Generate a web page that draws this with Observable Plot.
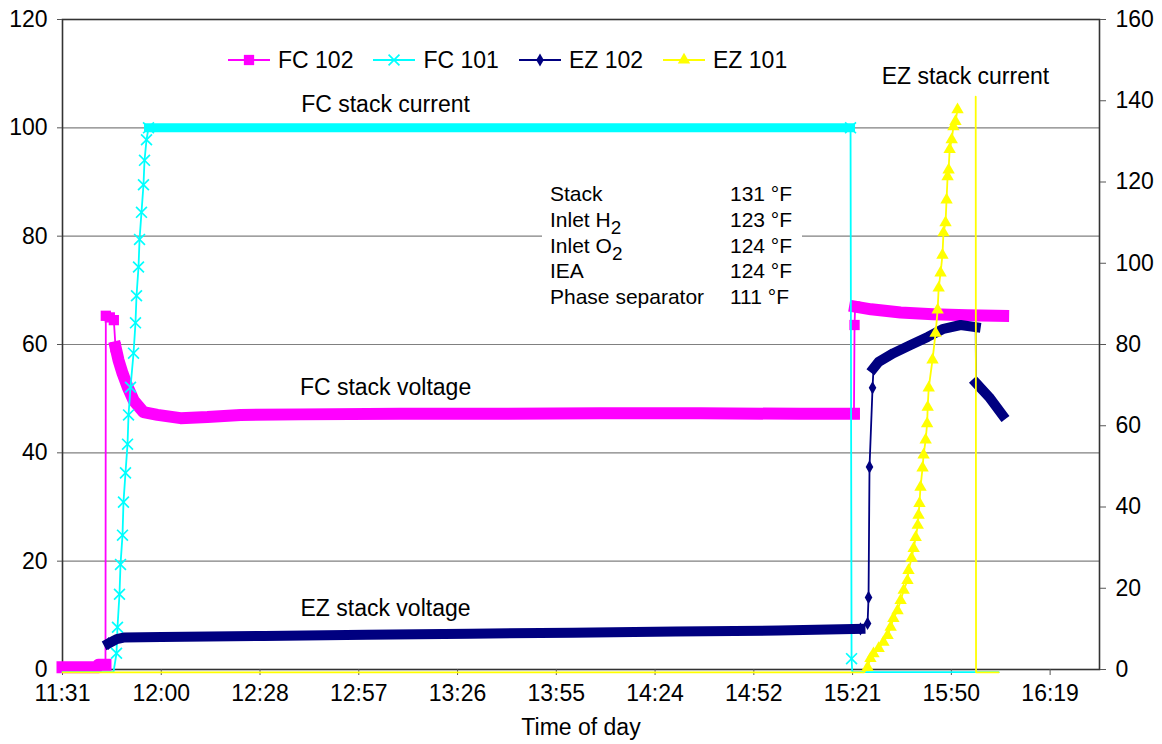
<!DOCTYPE html>
<html>
<head>
<meta charset="utf-8">
<script src="https://cdn.jsdelivr.net/npm/d3@7"></script>
<script src="https://cdn.jsdelivr.net/npm/@observablehq/plot@0.6"></script>
<style>
  html, body { margin: 0; padding: 0; background: #fff; }
  #wrap { position: relative; width: 1162px; height: 744px; font-family: 'Liberation Sans', Arial, sans-serif; color: #000; }
  #legend { position: absolute; left: 228px; top: 47px; display: flex; align-items: center; font-size: 23px; line-height: 26px; }
  .item { display: flex; align-items: center; margin-right: 20px; }
  .item svg { margin-right: 8px; }
  #temps { position: absolute; left: 542px; top: 181px; width: 260px; height: 128px; background: #fff; font-size: 21px; }
  .row { position: relative; height: 25.8px; line-height: 25.8px; }
  .row .lab { position: absolute; left: 8px; }
  .row .val { position: absolute; left: 188px; }
  sub { font-size: 0.9em; vertical-align: -0.35em; line-height: 0; }
</style>
</head>
<body>
<div id="wrap"></div>
<script>
// ---------- data ----------
const xDomain = ["11:31:12", "16:33:36"];
const xTicks = ["11:31:12","12:00:00","12:28:48","12:57:36","13:26:24","13:55:12","14:24:00","14:52:48","15:21:36","15:50:24","16:19:12"];
const leftTicks = [0, 20, 40, 60, 80, 100, 120];
const rightTicks = [0, 20, 40, 60, 80, 100, 120, 140, 160];
const gridValues = [20, 40, 60, 80, 100];

// FC 102 (left axis, V)
const fc102 = [
  ["11:31:12",0.4],["11:41:20",0.4],["11:41:40",0.9],["11:43:44",0.9],
  ["11:43:50",65.3],["11:45:00",65.0],["11:46:10",64.5],
  ["11:46:40",59.5],["11:47:32",57.1],["11:48:42",54.7],["11:50:10",52.2],["11:51:55",49.7],
  ["11:54:49",47.5],["11:58:54",47.0],["12:05:37",46.4],["12:13:29",46.6],["12:23:07",47.0],
  ["12:40:37",47.1],["13:09:46",47.2],["13:38:54",47.2],["14:08:06",47.3],["14:37:16",47.3],
  ["15:06:24",47.2],["15:22:00",47.2],
  ["15:22:10",63.6],
  ["15:22:20",67.0],["15:27:00",66.5],["15:35:36",65.9],["15:45:00",65.6],["15:55:00",65.4],["16:05:30",65.3]
];
const fc102Dense = [["11:31:12","11:43:44"],["11:46:40","15:22:00"],["15:22:20","16:05:30"]];

// FC 101 (left axis, A)
const fc101 = [
  ["11:31:12",-0.5],["11:46:04",-0.5],
  ["11:46:57",3.0],["11:47:14",7.8],["11:47:49",13.9],["11:48:07",19.4],["11:48:42",24.8],
  ["11:48:59",30.9],["11:49:34",36.3],["11:50:10",41.6],["11:50:27",47.0],["11:51:02",52.1],
  ["11:51:55",58.4],["11:52:29",64.0],["11:52:47",69.0],["11:53:22",74.3],["11:53:40",79.4],
  ["11:54:14",84.4],["11:54:49",89.5],["11:55:07",94.0],["11:55:42",97.8],["11:56:17",100.0],
  ["12:30:00",100.0],["13:30:00",100.0],["14:30:00",100.0],["15:21:00",100.0],
  ["15:21:18",2.0],["15:21:30",-0.5],["16:04:12",-0.5]
];
const fc101Dense = [["11:56:17","15:21:00"]];

// EZ 102 (left axis, V)
const ez102 = [
  ["11:44:37",4.8],["11:47:00",5.6],["11:49:00",5.9],["12:00:00",6.0],["12:30:00",6.2],
  ["13:00:00",6.4],["13:30:00",6.6],["14:00:00",6.8],["14:30:00",7.0],["15:00:00",7.2],["15:23:54",7.5],
  ["15:25:58",8.5],["15:26:15",13.3],["15:26:32",37.4],["15:27:25",52.0],
  ["15:27:42",55.6],["15:29:12",56.8],["15:33:30",58.4],["15:38:30",59.9],["15:43:30",61.4],
  ["15:48:06",62.9],["15:53:06",63.6],["15:57:30",63.2],
  ["15:57:36",52.9],["16:01:24",50.3],["16:05:18",47.0]
];
const ez102Dense = [["11:44:37","15:23:54"],["15:27:42","15:57:30"],["15:57:36","16:05:18"]];

// EZ 101 (right axis, A)
const ez101 = [
  ["11:31:12",-0.7],["15:25:00",-0.7],
  ["15:25:58",0.5],["15:26:48",2.7],["15:27:42",3.9],["15:29:12",5.2],["15:30:36",6.7],
  ["15:31:48",8.4],["15:32:42",10.4],["15:33:30",12.6],["15:34:42",14.5],["15:35:36",17.0],
  ["15:36:30",19.5],["15:37:36",21.9],["15:37:54",24.4],["15:38:48",27.4],["15:39:24",29.8],
  ["15:40:00",32.5],["15:40:36",35.5],["15:40:50",38.0],["15:41:06",40.9],["15:41:24",44.9],
  ["15:42:00",49.6],["15:42:18",52.8],["15:42:54",56.5],["15:43:20",60.5],["15:43:30",64.6],
  ["15:43:48",69.3],["15:44:54",76.2],["15:45:48",82.8],["15:46:24",88.5],["15:46:42",93.9],
  ["15:47:15",97.6],["15:47:48",102.0],["15:48:06",107.5],["15:48:42",110.0],["15:49:00",115.6],
  ["15:49:18",121.3],["15:49:36",123.0],["15:49:54",128.0],["15:50:30",130.4],["15:51:00",133.6],
  ["15:51:36",134.9],["15:52:12",137.8]
];
const ez101Spike = [["15:57:30",141.0],["15:57:36",-0.7],["16:04:12",-0.7]];

const seriesNames = ["FC 102", "FC 101", "EZ 102", "EZ 101"];
const notes = [
  {text: "FC stack current", t: "13:05:24", v: 104.3},
  {text: "FC stack voltage", t: "13:05:24", v: 52.0},
  {text: "EZ stack voltage", t: "13:05:24", v: 11.3},
  {text: "EZ stack current", t: "15:54:30", v: 109.5}
];
const tempLabels = ["Stack", "Inlet H<sub>2</sub>", "Inlet O<sub>2</sub>", "IEA", "Phase separator"];
const tempValues = ["131 °F", "123 °F", "124 °F", "124 °F", "111 °F"];

// ---------- build ----------
const toMin = s => { const [h, m, sec = 0] = s.split(":").map(Number); return h * 60 + m + sec / 60; };
const leftMax = leftTicks[leftTicks.length - 1];
const rightMax = rightTicks[rightTicks.length - 1];
const k = leftMax / rightMax;

const rows = (arr, scale = 1) => arr.map(([t, v]) => ({t: toMin(t), v: v * scale}));
const bandRows = (arr, ranges) => ranges.flatMap(([a, b], i) => {
  const A = toMin(a), B = toMin(b);
  return rows(arr).filter(d => d.t >= A && d.t <= B).map(d => ({...d, seg: i}));
});
// points strictly inside a dense stretch are hidden in the band of overlapping markers
const insideDense = (t, ranges) => ranges.some(([a, b]) => t > toMin(a) && t < toMin(b));

const styles = [
  {color: "#FF00FF", symbol: "square", r: 5.8, band: 12, filled: true},
  {color: "#00FFFF", symbol: "times", r: 5.0, band: 9, filled: false},
  {color: "#000080", symbol: "diamond", r: 4.0, band: 10, filled: true},
  {color: "#FFFF00", symbol: "triangle", r: 4.6, band: 0, filled: true}
];
const seriesData = [
  {pts: rows(fc102), band: bandRows(fc102, fc102Dense), dense: fc102Dense},
  {pts: rows(fc101), band: bandRows(fc101, fc101Dense), dense: fc101Dense},
  {pts: rows(ez102), band: bandRows(ez102, ez102Dense), dense: ez102Dense},
  {pts: rows(ez101, k), band: [], dense: [], extra: rows(ez101Spike, k)}
];

const tickPos = xTicks.map(toMin);
const marks = [
  Plot.gridY(gridValues, {stroke: "#808080", strokeOpacity: 1, strokeWidth: 1.2}),
  Plot.frame({stroke: "#333", strokeWidth: 1.6}),
  Plot.axisY({anchor: "left", ticks: leftTicks, tickSize: 5, tickPadding: 10, label: null, stroke: "#555"}),
  Plot.axisY({anchor: "right", ticks: rightTicks.map(v => v * k), tickFormat: d => String(Math.round(d / k)), tickSize: 6, tickPadding: 10, label: null, stroke: "#555"}),
  Plot.axisX({ticks: tickPos, tickFormat: d => xTicks[tickPos.indexOf(d)].slice(0, 5), tickSize: 6, tickPadding: 9, label: null, stroke: "#555"})
];

seriesData.forEach((s, i) => {
  const st = styles[i];
  marks.push(Plot.line(s.pts, {x: "t", y: "v", stroke: st.color, strokeWidth: 1.8}));
  if (s.extra) marks.push(Plot.line(s.extra, {x: "t", y: "v", stroke: st.color, strokeWidth: 1.8}));
  if (s.band.length) marks.push(Plot.line(s.band, {x: "t", y: "v", z: "seg", stroke: st.color, strokeWidth: st.band, strokeLinecap: "square", strokeLinejoin: "round"}));
  const mk = s.pts.filter(d => d.v >= 0 && !insideDense(d.t, s.dense));
  marks.push(Plot.dot(mk, st.filled
    ? {x: "t", y: "v", symbol: st.symbol, r: st.r, fill: st.color, stroke: "none"}
    : {x: "t", y: "v", symbol: st.symbol, r: st.r, fill: "none", stroke: st.color, strokeWidth: 1.7}));
});

marks.push(Plot.text(notes, {x: d => toMin(d.t), y: "v", text: "text", textAnchor: "middle", lineAnchor: "middle", fill: "#000", fontSize: 23}));
marks.push(Plot.text(["Time of day"], {frameAnchor: "bottom", dy: 58, lineAnchor: "middle", textAnchor: "middle", fill: "#000", fontSize: 23}));

const chart = Plot.plot({
  width: 1162,
  height: 744,
  marginLeft: 62,
  marginRight: 63,
  marginTop: 19,
  marginBottom: 75,
  x: {domain: xDomain.map(toMin)},
  y: {domain: [0, leftMax]},
  style: {fontFamily: "'Liberation Sans', Arial, sans-serif", fontSize: "23px", background: "#fff", color: "#000", overflow: "visible"},
  marks
});

const wrap = document.getElementById("wrap");
wrap.appendChild(chart);

// legend
const legend = document.createElement("div");
legend.id = "legend";
const symMap = {square: d3.symbolSquare, times: d3.symbolTimes, diamond: d3.symbolDiamond, triangle: d3.symbolTriangle};
seriesNames.forEach((name, i) => {
  const st = styles[i];
  const item = document.createElement("div");
  item.className = "item";
  const sw = d3.create("svg").attr("width", 42).attr("height", 24);
  sw.append("line").attr("x1", 0).attr("x2", 42).attr("y1", 12).attr("y2", 12).attr("stroke", st.color).attr("stroke-width", 2);
  const p = sw.append("path").attr("transform", "translate(21,12)")
    .attr("d", d3.symbol(symMap[st.symbol], st.r * st.r * Math.PI)());
  if (st.filled) p.attr("fill", st.color); else p.attr("fill", "none").attr("stroke", st.color).attr("stroke-width", 1.7);
  item.appendChild(sw.node());
  const lab = document.createElement("span");
  lab.textContent = name;
  item.appendChild(lab);
  legend.appendChild(item);
});
wrap.appendChild(legend);

// temperature table
const temps = document.createElement("div");
temps.id = "temps";
tempLabels.forEach((l, i) => {
  const r = document.createElement("div");
  r.className = "row";
  r.innerHTML = `<span class="lab">${l}</span><span class="val">${tempValues[i]}</span>`;
  temps.appendChild(r);
});
wrap.appendChild(temps);
</script>
</body>
</html>
